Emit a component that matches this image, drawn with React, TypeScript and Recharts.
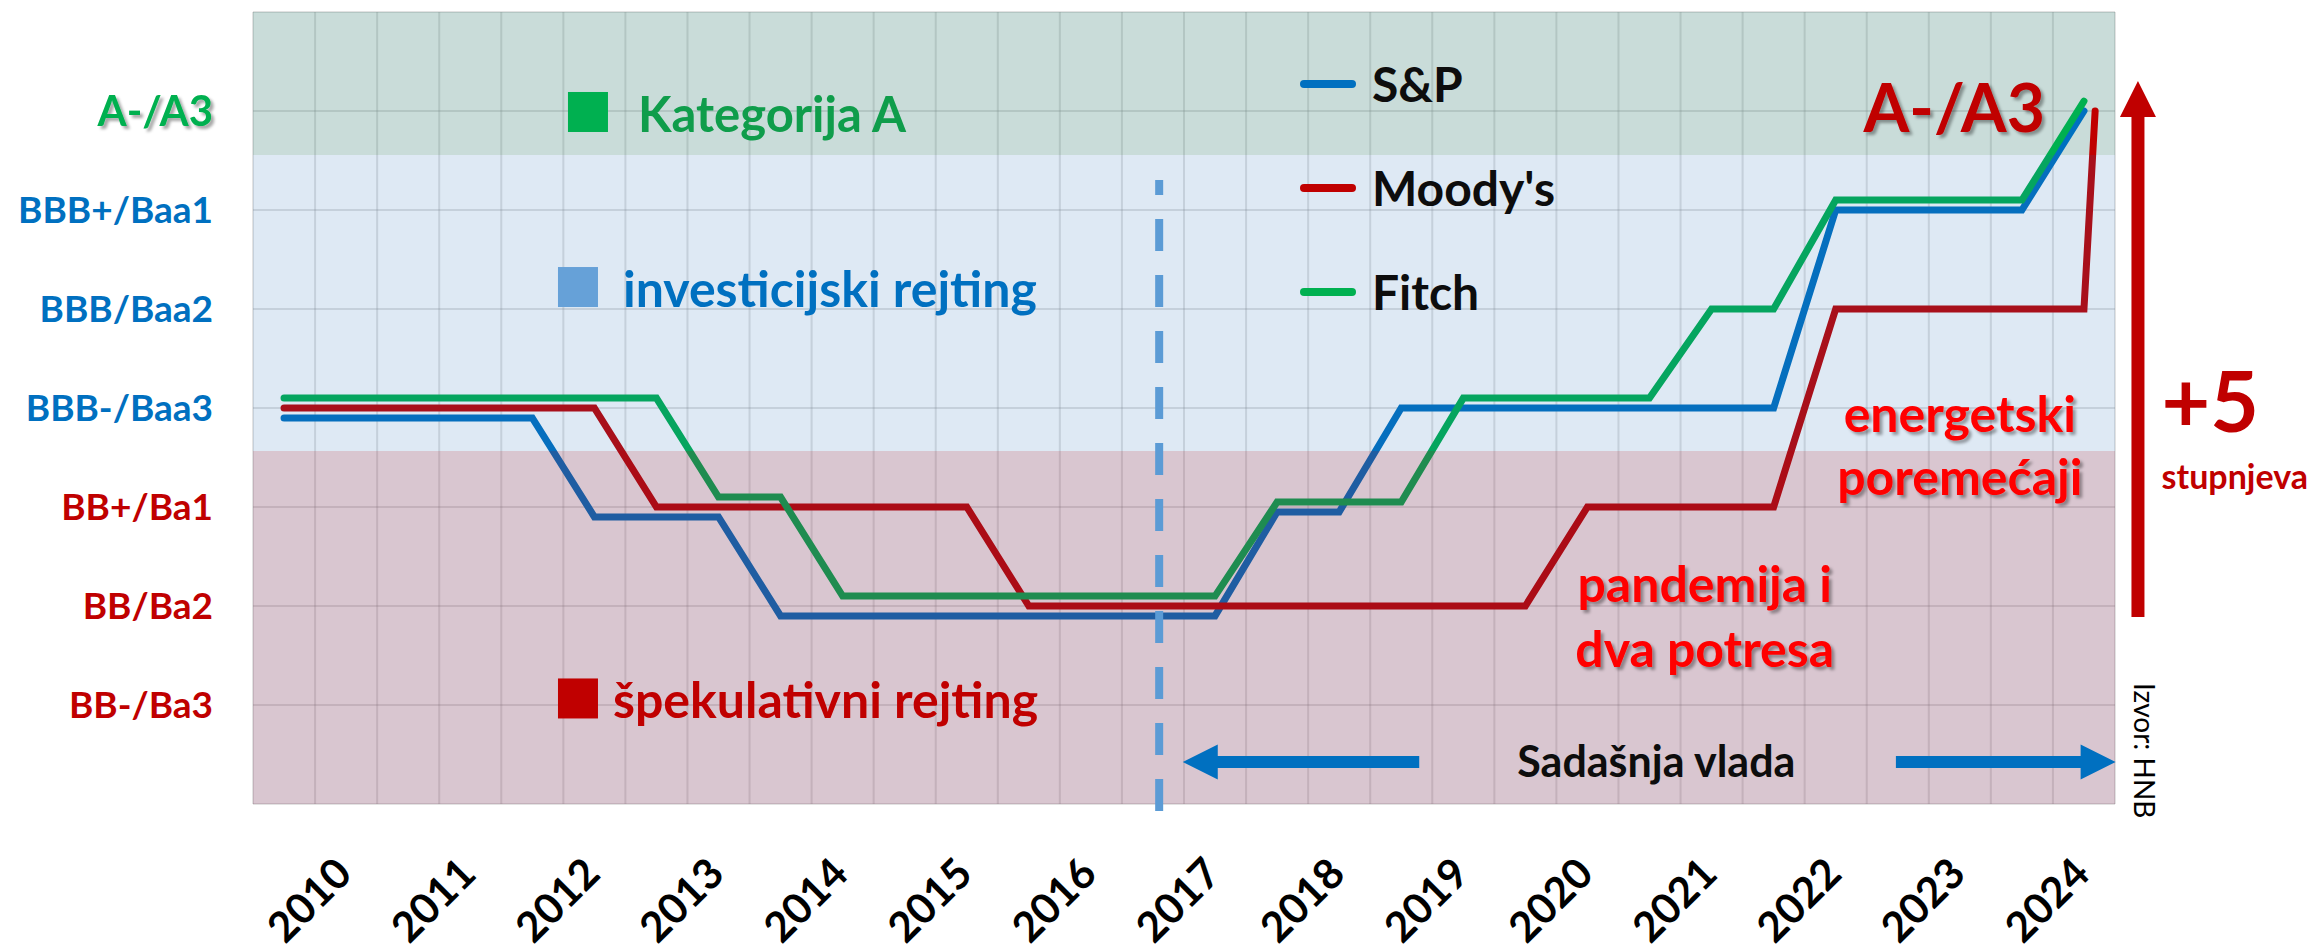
import React from "react";
import {
  CartesianGrid,
  Legend,
  Line,
  LineChart,
  ReferenceArea,
  ReferenceDot,
  ReferenceLine,
  XAxis,
  YAxis,
} from "recharts";

const FONT = "Lato, 'Open Sans', sans-serif";

const years = [2010, 2011, 2012, 2013, 2014, 2015, 2016, 2017, 2018, 2019, 2020, 2021, 2022, 2023, 2024];

// rating scale: 1 = BB-/Ba3 ... 7 = A-/A3
const ratingLabels = ["BB-/Ba3", "BB/Ba2", "BB+/Ba1", "BBB-/Baa3", "BBB/Baa2", "BBB+/Baa1", "A-/A3"];
const ratingColors = ["#c00000", "#c00000", "#c00000", "#0070c0", "#0070c0", "#0070c0", "#00b050"];

const seriesNames = ["S&P", "Moody's", "Fitch"];

// half-year values (2010 H1 ... 2024 H2), read off the picture
const spRatings = [
  3.9, 3.9, 3.9, 3.9, 3.9, 2.9, 2.9, 2.9, 1.9, 1.9, 1.9, 1.9, 1.9, 1.9, 1.9, 1.9,
  2.95, 2.95, 4, 4, 4, 4, 4, 4, 4, 6, 6, 6, 6, 7,
];
const moodysRatings = [
  4, 4, 4, 4, 4, 4, 3, 3, 3, 3, 3, 3, 2, 2, 2, 2, 2, 2, 2, 2, 2, 3, 3, 3, 3, 5, 5, 5, 5, 5,
];
const fitchRatings = [
  4.1, 4.1, 4.1, 4.1, 4.1, 4.1, 4.1, 3.1, 3.1, 2.1, 2.1, 2.1, 2.1, 2.1, 2.1, 2.1,
  3.05, 3.05, 3.05, 4.1, 4.1, 4.1, 4.1, 5, 5, 6.1, 6.1, 6.1, 6.1, 7.1,
];
// Moody's late-2024 upgrade comes right after the last half-year point
const moodysFinal = { t: 29.68, value: 7 };

const data: any[] = spRatings.map((v, i) => ({
  t: i + 0.5,
  sp: v,
  moodys: moodysRatings[i],
  fitch: fitchRatings[i],
}));
data.push({ t: moodysFinal.t, moodys: moodysFinal.value });

const xTicks = Array.from({ length: years.length * 2 + 1 }, (_, i) => i);
const yTicks = Array.from({ length: ratingLabels.length + 2 }, (_, i) => i);

function YearTick({ x, y, payload }: any) {
  const v = payload.value;
  if (v % 2 !== 1) return <g />;
  const year = years[(v - 1) / 2];
  return (
    <text
      transform={`translate(${x + 39},${y + 72}) rotate(-45)`}
      textAnchor="end"
      fontFamily={FONT}
      fontWeight={700}
      fontSize={42}
      fill="#000"
    >
      {year}
    </text>
  );
}

function RatingTick({ x, y, payload }: any) {
  const idx = payload.value - 1;
  if (idx < 0 || idx >= ratingLabels.length) return <g />;
  const top = idx === ratingLabels.length - 1;
  return (
    <text
      x={x}
      y={y}
      dy="0.36em"
      textAnchor="end"
      fontFamily={FONT}
      fontWeight={700}
      fontSize={top ? 42 : 37}
      fill={ratingColors[idx]}
      filter={top ? "url(#txtShadow)" : undefined}
    >
      {ratingLabels[idx]}
    </text>
  );
}

function renderLegend(props: any) {
  const items = [...(props.payload || [])].sort(
    (a: any, b: any) => seriesNames.indexOf(a.value) - seriesNames.indexOf(b.value)
  );
  return (
    <div style={{ fontFamily: FONT }}>
      {items.map((entry: any) => (
        <div key={entry.value} style={{ display: "flex", alignItems: "center", height: 104 }}>
          <svg width={58} height={12}>
            <line x1={5} y1={6} x2={53} y2={6} stroke={entry.color} strokeWidth={8} strokeLinecap="round" />
          </svg>
          <span style={{ marginLeft: 15, fontSize: 48, fontWeight: 700, color: "#0d0d0d", lineHeight: 1 }}>
            {entry.value}
          </span>
        </div>
      ))}
    </div>
  );
}

function arrowShape(color: string, shaft: number, head: number, headWidth: number) {
  return (props: any) => {
    const { x1, y1, x2, y2 } = props;
    const len = Math.hypot(x2 - x1, y2 - y1) || 1;
    const ux = (x2 - x1) / len;
    const uy = (y2 - y1) / len;
    const px = -uy;
    const py = ux;
    const bx = x2 - ux * head;
    const by = y2 - uy * head;
    const pts = [
      [x1 + (px * shaft) / 2, y1 + (py * shaft) / 2],
      [bx + (px * shaft) / 2, by + (py * shaft) / 2],
      [bx + (px * headWidth) / 2, by + (py * headWidth) / 2],
      [x2, y2],
      [bx - (px * headWidth) / 2, by - (py * headWidth) / 2],
      [bx - (px * shaft) / 2, by - (py * shaft) / 2],
      [x1 - (px * shaft) / 2, y1 - (py * shaft) / 2],
    ];
    return <polygon points={pts.map((p) => p.join(",")).join(" ")} fill={color} />;
  };
}

function note(render: (cx: number, cy: number) => React.ReactNode) {
  return (props: any) => <g>{render(props.cx, props.cy)}</g>;
}

const bold = { fontFamily: FONT, fontWeight: 700 } as const;
const front = { zIndex: 1500 } as any;

export default function App() {
  return (
    <div style={{ position: "absolute", left: 0, top: 0, width: 2316, height: 950, background: "#fff" }}>
      <LineChart width={2316} height={950} data={data} margin={{ top: 12, right: 201, bottom: 0, left: 0 }}>
        <defs>
          <filter id="txtShadow" x="-10%" y="-20%" width="130%" height="160%">
            <feDropShadow dx="3" dy="3" stdDeviation="1.5" floodColor="#000" floodOpacity="0.35" />
          </filter>
        </defs>
        <CartesianGrid stroke="rgb(140,140,140)" strokeOpacity={0.25} strokeWidth={2} />
        <XAxis
          type="number"
          dataKey="t"
          domain={[0, 30]}
          ticks={xTicks}
          interval={0}
          allowDataOverflow
          axisLine={false}
          tickLine={false}
          tickSize={0}
          tickMargin={0}
          height={146}
          tick={YearTick}
        />
        <YAxis
          type="number"
          domain={[0, 8]}
          ticks={yTicks}
          interval={0}
          allowDataOverflow
          axisLine={false}
          tickLine={false}
          tickSize={0}
          tickMargin={40}
          width={253}
          tick={RatingTick}
        />
        <ReferenceArea x1={0} x2={30} y1={6.556} y2={8} fill="rgb(39,115,103)" fillOpacity={0.25} stroke="none" />

        <Line name="S&P" dataKey="sp" stroke="#0070c0" strokeWidth={7} strokeLinecap="round" dot={false} activeDot={false} isAnimationActive={false} />
        <Line name="Moody's" dataKey="moodys" stroke="#c00000" strokeWidth={7} strokeLinecap="round" dot={false} activeDot={false} isAnimationActive={false} />
        <Line name="Fitch" dataKey="fitch" stroke="#00b050" strokeWidth={7} strokeLinecap="round" dot={false} activeDot={false} isAnimationActive={false} />

        <ReferenceArea x1={0} x2={30} y1={3.566} y2={6.556} fill="rgb(35,108,182)" fillOpacity={0.15} stroke="none" {...({ zIndex: 450 } as any)} />
        <ReferenceArea x1={0} x2={30} y1={0} y2={3.566} fill="rgb(115,44,81)" fillOpacity={0.27} stroke="none" {...({ zIndex: 450 } as any)} />

        <ReferenceLine
          segment={[{ x: 14.6, y: -0.071 }, { x: 14.6, y: 6.303 }]}
          stroke="#5b9bd5"
          strokeWidth={8}
          strokeDasharray="32 24"
          ifOverflow="visible"
          {...front}
        />
        <ReferenceLine
          segment={[{ x: 18.79, y: 0.424 }, { x: 14.98, y: 0.424 }]}
          ifOverflow="visible"
          shape={arrowShape("#0070c0", 12, 35, 35)}
          {...front}
        />
        <ReferenceLine
          segment={[{ x: 26.47, y: 0.424 }, { x: 30.01, y: 0.424 }]}
          ifOverflow="visible"
          shape={arrowShape("#0070c0", 12, 35, 35)}
          {...front}
        />
        <ReferenceLine
          segment={[{ x: 30.37, y: 1.889 }, { x: 30.37, y: 7.303 }]}
          ifOverflow="visible"
          shape={arrowShape("#c00000", 13, 36, 36)}
          {...front}
        />

        <ReferenceDot
          x={5.397}
          y={6.99}
          ifOverflow="visible"
          {...front}
          shape={note((cx, cy) => (
            <>
              <rect x={cx - 20} y={cy - 20} width={40} height={40} fill="#00b050" />
              <text x={cx + 50} y={cy + 20} {...bold} fontSize={49} fill="#0f9d4b">Kategorija A</text>
            </>
          ))}
        />
        <ReferenceDot
          x={5.236}
          y={5.222}
          ifOverflow="visible"
          {...front}
          shape={note((cx, cy) => (
            <>
              <rect x={cx - 20} y={cy - 20} width={40} height={40} fill="#66a1d8" />
              <text x={cx + 45} y={cy + 20} {...bold} fontSize={50} fill="#0070c0">investicijski rejting</text>
            </>
          ))}
        />
        <ReferenceDot
          x={5.236}
          y={1.066}
          ifOverflow="visible"
          {...front}
          shape={note((cx, cy) => (
            <>
              <rect x={cx - 20} y={cy - 20} width={40} height={40} fill="#c00000" />
              <text x={cx + 35} y={cy + 20} {...bold} fontSize={50} fill="#c00000">špekulativni rejting</text>
            </>
          ))}
        />
        <ReferenceDot
          x={27.41}
          y={6.788}
          ifOverflow="visible"
          {...front}
          shape={note((cx, cy) => (
            <text x={cx} y={cy} textAnchor="middle" {...bold} fontSize={66} fill="#c00000" filter="url(#txtShadow)">A-/A3</text>
          ))}
        />
        <ReferenceDot
          x={27.5}
          y={3.76}
          ifOverflow="visible"
          {...front}
          shape={note((cx, cy) => (
            <text textAnchor="middle" {...bold} fontSize={50} fill="#ff0000" filter="url(#txtShadow)">
              <tspan x={cx} y={cy}>energetski</tspan>
              <tspan x={cx} y={cy + 63}>poremećaji</tspan>
            </text>
          ))}
        />
        <ReferenceDot
          x={23.39}
          y={2.044}
          ifOverflow="visible"
          {...front}
          shape={note((cx, cy) => (
            <text textAnchor="middle" {...bold} fontSize={50} fill="#ff0000" filter="url(#txtShadow)">
              <tspan x={cx} y={cy}>pandemija i</tspan>
              <tspan x={cx} y={cy + 65}>dva potresa</tspan>
            </text>
          ))}
        />
        <ReferenceDot
          x={22.61}
          y={0.276}
          ifOverflow="visible"
          {...front}
          shape={note((cx, cy) => (
            <text x={cx} y={cy} textAnchor="middle" {...bold} fontSize={43} fill="#0d0d0d">Sadašnja vlada</text>
          ))}
        />
        <ReferenceDot
          x={30.75}
          y={3.758}
          ifOverflow="visible"
          {...front}
          shape={note((cx, cy) => (
            <>
              <text x={cx} y={cy} {...bold} fontSize={84} fill="#c00000">+5</text>
              <text x={cx} y={cy + 57} {...bold} fontSize={34} fill="#c00000">stupnjeva</text>
            </>
          ))}
        />
        <ReferenceDot
          x={30.3}
          y={1.222}
          ifOverflow="visible"
          {...front}
          shape={note((cx, cy) => (
            <text transform={`translate(${cx},${cy}) rotate(90)`} fontFamily={FONT} fontSize={28} fill="#000">Izvor: HNB</text>
          ))}
        />

        <Legend
          layout="vertical"
          align="center"
          verticalAlign="middle"
          content={renderLegend}
          wrapperStyle={{ left: 1299, top: 32, width: 400, height: 312 }}
        />
      </LineChart>
    </div>
  );
}
